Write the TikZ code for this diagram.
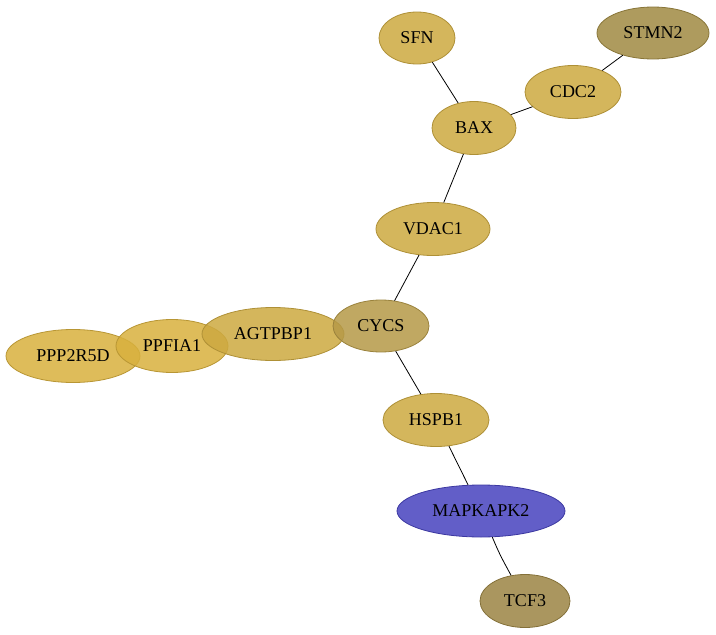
\documentclass[tikz,border=0pt]{standalone}
\usepackage{fontspec}
\setmainfont{Liberation Serif}
\usetikzlibrary{shapes.geometric}
\definecolor{goldA}{RGB}{205,169,64}
\definecolor{goldB}{RGB}{216,176,61}
\definecolor{goldC}{RGB}{181,153,71}
\definecolor{olive}{RGB}{160,138,66}
\definecolor{oliveB}{RGB}{155,132,67}
\definecolor{blueN}{RGB}{70,66,190}
\tikzset{
  gene/.style={ellipse, inner sep=0pt, fill opacity=0.85, text opacity=1, line width=0.8pt, font=\fontsize{18}{20}\selectfont},
  gold/.style={gene, fill=goldA, draw=goldA!85!black},
  goldb/.style={gene, fill=goldB, draw=goldB!85!black},
  goldc/.style={gene, fill=goldC, draw=goldC!85!black},
  oliv/.style={gene, fill=olive, draw=olive!85!black},
  olivb/.style={gene, fill=oliveB, draw=oliveB!85!black},
  bluen/.style={gene, fill=blueN, draw=blueN!85!black},
  link/.style={draw=black, line width=0.8pt}
}
\begin{document}
\begin{tikzpicture}[x=1pt,y=-1pt]
\useasboundingbox (0,0) rectangle (716,635);
% nodes
\node[gold, minimum width=76pt, minimum height=52pt] (SFN) at (417,38) {SFN};
\node[oliv, minimum width=112pt, minimum height=52pt] (STMN2) at (653,33) {STMN2};
\node[gold, minimum width=96pt, minimum height=53pt] (CDC2) at (573,92) {CDC2};
\node[gold, minimum width=84pt, minimum height=53pt] (BAX) at (474,128) {BAX};
\node[gold, minimum width=114pt, minimum height=53pt] (VDAC1) at (433,229) {VDAC1};
\node[goldb, minimum width=134pt, minimum height=53pt] (PPP2R5D) at (73,356) {PPP2R5D};
\node[goldb, minimum width=112pt, minimum height=53pt] (PPFIA1) at (172,346) {PPFIA1};
\node[gold, minimum width=142pt, minimum height=53pt] (AGTPBP1) at (273,334) {AGTPBP1};
\node[goldc, minimum width=96pt, minimum height=52pt] (CYCS) at (381,326) {CYCS};
\node[gold, minimum width=106pt, minimum height=53pt] (HSPB1) at (436,420) {HSPB1};
\node[bluen, minimum width=168pt, minimum height=52pt] (MAPKAPK2) at (481,511) {MAPKAPK2};
\node[olivb, minimum width=90pt, minimum height=53pt] (TCF3) at (525,601) {TCF3};
% edges
\draw[link] (SFN) -- (BAX);
\draw[link] (BAX) -- (CDC2);
\draw[link] (CDC2) -- (STMN2);
\draw[link] (BAX) -- (VDAC1);
\draw[link] (VDAC1) -- (CYCS);
\draw[link] (CYCS) -- (HSPB1);
\draw[link] (HSPB1) -- (MAPKAPK2);
\draw[link] (MAPKAPK2) .. controls (500,555) .. (TCF3);
\end{tikzpicture}
\end{document}
